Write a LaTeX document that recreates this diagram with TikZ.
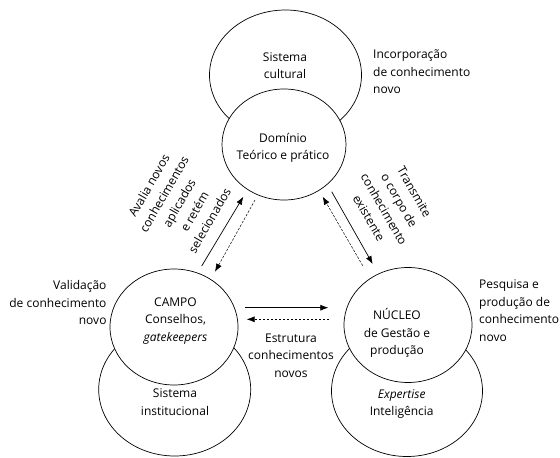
\documentclass[tikz,border=0pt]{standalone}
\usepackage{fontspec}
\setmainfont{Open Sans}
\usetikzlibrary{shapes.geometric,arrows.meta}
\begin{document}
\begin{tikzpicture}[x=1pt,y=-1pt,
  roda/.style={ellipse, draw, fill=white, line width=0.7pt, inner sep=0pt},
  rotulo/.style={align=center, inner sep=0pt, font=\fontsize{12}{17.5}\selectfont},
  seta/.style={-{Latex[length=8pt,width=6pt]}, line width=0.7pt},
  volta/.style={seta, line width=0.5pt, dash pattern=on 2.5pt off 1.5pt}]
\useasboundingbox (0,0) rectangle (560,458);
% top: sistema cultural / dominio
\node[roda, minimum width=152pt, minimum height=130pt] (cultural) at (285.5,75){};
\node[roda, minimum width=124pt, minimum height=111pt] (dominio) at (284,144.5){};
\node[rotulo] (tcultural) at (285,65.5){Sistema\\cultural};
\node[rotulo] (tdominio) at (283,148){Domínio\\Teórico e prático};
% left: sistema institucional / campo
\node[roda, minimum width=152pt, minimum height=133pt] (inst) at (174.7,389.5){};
\node[roda, minimum width=128pt, minimum height=116pt] (campo) at (174,327){};
\node[rotulo] (tcampo) at (175.5,321){CAMPO\\Conselhos,\\\textit{gatekeepers}};
\node[rotulo] (tinst) at (175,402){Sistema\\institucional};
% right: expertise / nucleo
\node[roda, minimum width=151pt, minimum height=131pt] (expert) at (407,391){};
\node[roda, minimum width=128pt, minimum height=115pt] (nucleo) at (408,325){};
\node[rotulo] (tnucleo) at (397,333){NÚCLEO\\de Gestão e\\produção};
\node[rotulo] (texpert) at (401.7,404){\textit{Expertise}\\Inteligência};
% side texts
\node[rotulo, align=left, anchor=west] (tincorp) at (373,71.7){Incorporação\\de conhecimento\\novo};
\node[rotulo, align=right, anchor=east] (tvalid) at (106.7,302.7){Validação\\de conhecimento\\novo};
\node[rotulo, align=left, anchor=west] (tpesq) at (479,310.5){Pesquisa e\\produção de\\conhecimento\\novo};
\node[rotulo] (testrut) at (291,355.7){Estrutura\\conhecimentos\\novos};
\node[rotulo, rotate=60] (tavalia) at (179.2,203){Avalia novos\\conhecimentos\\aplicados\\e retém\\selecionados};
\node[rotulo, rotate=-60] (ttransm) at (391.7,205){Transmite\\o corpo de\\conhecimento\\existente};
% arrows
\coordinate (av0) at (201.7,266);
\coordinate (av1) at (243.3,196.7);
\coordinate (av2) at (255,200);
\coordinate (av3) at (215,271.7);
\draw[seta] (av0) -- (av1);
\draw[volta] (av2) -- (av3);
\coordinate (tr0) at (331.7,191.7);
\coordinate (tr1) at (372.7,264);
\coordinate (tr2) at (362.7,265.7);
\coordinate (tr3) at (322.7,196.7);
\draw[seta] (tr0) -- (tr1);
\draw[volta] (tr2) -- (tr3);
\coordinate (es0) at (245,307.7);
\coordinate (es1) at (328.3,307.7);
\coordinate (es2) at (329,319.3);
\coordinate (es3) at (246.7,319.3);
\draw[seta] (es0) -- (es1);
\draw[volta] (es2) -- (es3);
\end{tikzpicture}
\end{document}
